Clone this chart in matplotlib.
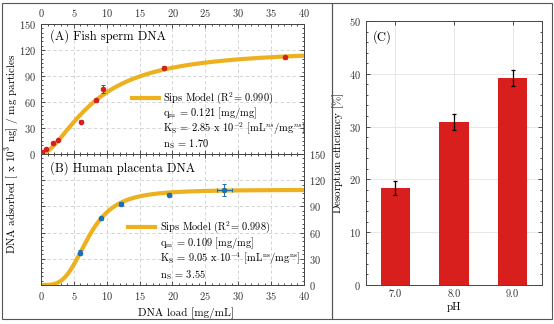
import numpy as np
import matplotlib

matplotlib.use("Agg")
import matplotlib.pyplot as plt
from matplotlib.ticker import AutoMinorLocator, MultipleLocator
from matplotlib.patches import Rectangle
from matplotlib.lines import Line2D

plt.rcParams["font.family"] = "serif"
plt.rcParams["font.serif"] = ["cmr10", "DejaVu Serif"]
plt.rcParams["mathtext.fontset"] = "cm"
plt.rcParams["axes.formatter.use_mathtext"] = True
plt.rcParams["axes.unicode_minus"] = False

# panel A: fish sperm DNA (load mg/mL, adsorbed x10^3 ng/mg)
fish_x = [0.1, 0.76, 1.8, 2.65, 6.05, 8.3, 9.5, 18.7, 37.1]
fish_y = [2.0, 5.4, 12.7, 16.0, 37.3, 62.0, 75.0, 99.5, 111.5]
fish_yerr = [0.8, 1.0, 1.2, 1.2, 1.5, 2.0, 5.0, 1.5, 2.0]
fish_fit = dict(qm=121.0, K=2.85e-2, n=1.70)

# panel B: human placenta DNA
plac_x = [5.95, 9.15, 12.1, 19.5, 27.9]
plac_y = [36.8, 76.3, 93.0, 103.3, 108.6]
plac_xerr = [0.2, 0.2, 0.2, 0.2, 1.1]
plac_yerr = [3.0, 1.5, 2.0, 1.5, 6.5]
plac_fit = dict(qm=109.0, K=9.05e-4, n=3.55)

# panel C: desorption efficiency
ph_labels = ["7.0", "8.0", "9.0"]
desorption = [18.4, 30.9, 39.2]
desorption_err = [1.3, 1.5, 1.5]

CURVE = "#EDB120"
RED = "#D42020"
BLUE = "#1F6FB5"
BAR = "#D91E1E"
GRID = "#cfcfcf"


def sips(c, qm, K, n):
    kc = K * c ** n
    return qm * kc / (1 + kc)


def style_axis(ax):
    ax.tick_params(which="both", direction="in", top=True, right=True,
                   labelsize=7.5, width=0.6, colors="#333333")
    ax.tick_params(which="major", length=3)
    ax.tick_params(which="minor", length=1.6)
    for s in ax.spines.values():
        s.set_linewidth(0.7)
        s.set_color("#444444")


fig = plt.figure(figsize=(5.54, 3.24), dpi=100)

# outer frames
fig.patches.append(Rectangle((2 / 554, 5 / 324), 330 / 554, 316 / 324, transform=fig.transFigure,
                             fill=False, edgecolor="#555555", linewidth=0.8))
fig.patches.append(Rectangle((332 / 554, 5 / 324), 220 / 554, 316 / 324, transform=fig.transFigure,
                             fill=False, edgecolor="#555555", linewidth=0.8))

ax_a = fig.add_axes([0.074, 0.5247, 0.4747, 0.4012])
ax_b = fig.add_axes([0.074, 0.1204, 0.4747, 0.4043])
ax_c = fig.add_axes([0.6606, 0.1204, 0.3177, 0.8148])

xs = np.linspace(0, 40, 400)
panels = [
    (ax_a, fish_x, fish_y, None, fish_yerr, fish_fit, RED, "0.990",
     r"q$_\mathrm{m}$ = 0.121 [mg/mg]",
     r"K$_\mathrm{S}$ = 2.85 x 10$^{-2}$ [mL$^{ns}$/mg$^{ns}$]",
     r"n$_\mathrm{S}$ = 1.70", "(A) Fish sperm DNA",
     (0.346, 0.449, 0.464), [0.431, 0.315, 0.192, 0.077], 0.905),
    (ax_b, plac_x, plac_y, plac_xerr, plac_yerr, plac_fit, BLUE, "0.998",
     r"q$_\mathrm{m}$ = 0.109 [mg/mg]",
     r"K$_\mathrm{S}$ = 9.05 x 10$^{-4}$ [mL$^{\mathrm{ns}}$/mg$^{\mathrm{ns}}$]",
     r"n$_\mathrm{S}$ = 3.55", "(B) Human placenta DNA",
     (0.331, 0.433, 0.452), [0.443, 0.321, 0.198, 0.076], 0.895),
]

for (ax, x, y, xe, ye, fit, col, r2, l1, l2, l3, title, lx, ly, ty) in panels:
    ax.plot(xs, sips(xs, **fit), color=CURVE, lw=3, zorder=2, solid_capstyle="butt")
    ax.errorbar(x, y, xerr=xe, yerr=ye, fmt="o", ms=3, color=col, ecolor=col,
                elinewidth=0.7, capsize=1.5, capthick=0.7, zorder=3)
    ax.set_xlim(0, 40)
    ax.set_ylim(0, 150)
    ax.xaxis.set_major_locator(MultipleLocator(5))
    ax.xaxis.set_minor_locator(AutoMinorLocator(5))
    ax.yaxis.set_major_locator(MultipleLocator(30))
    ax.yaxis.set_minor_locator(AutoMinorLocator(6))
    ax.grid(True, which="major", linestyle=(0, (4, 3)), color=GRID, linewidth=0.6)
    ax.set_axisbelow(True)
    style_axis(ax)
    ax.add_line(Line2D([lx[0], lx[1]], [ly[0], ly[0]], transform=ax.transAxes,
                       color=CURVE, lw=3))
    ax.text(lx[2], ly[0], f"Sips Model (R$^2$= {r2})", transform=ax.transAxes,
            fontsize=7.5, va="center", ha="left")
    for txt, yy in zip([l1, l2, l3], ly[1:]):
        ax.text(lx[2], yy, txt, transform=ax.transAxes, fontsize=7.5, va="center", ha="left")
    ax.text(0.034, ty, title, transform=ax.transAxes, fontsize=9, va="center", ha="left")

ax_a.tick_params(labelbottom=False, labeltop=True)
ax_b.tick_params(labelleft=False, labelright=True)

fig.text(12 / 554, 1 - 154 / 324, r"DNA adsorbed [ x 10$^3$ ng] / mg particles",
         rotation=90, ha="center", va="center", fontsize=8)
fig.text(186 / 554, 1 - 313 / 324, "DNA load [mg/mL]", ha="center", va="center", fontsize=8)

# panel C
pos = np.arange(len(ph_labels))
ax_c.bar(pos, desorption, width=0.5, color=BAR, zorder=2)
ax_c.errorbar(pos, desorption, yerr=desorption_err, fmt="none", ecolor="black",
              elinewidth=0.9, capsize=1.5, capthick=0.9, zorder=3)
ax_c.set_xlim(-0.5, 2.5)
ax_c.set_ylim(0, 50)
ax_c.set_xticks(pos)
ax_c.set_xticklabels(ph_labels)
ax_c.yaxis.set_major_locator(MultipleLocator(10))
ax_c.yaxis.set_minor_locator(AutoMinorLocator(5))
ax_c.grid(True, which="major", color="#e4e4e4", linewidth=0.6)
ax_c.set_axisbelow(True)
style_axis(ax_c)
ax_c.tick_params(axis="x", which="minor", bottom=False, top=False)
ax_c.set_xlabel("pH", fontsize=8, labelpad=2)
ax_c.set_ylabel(r"Desorption efficiency [$\%$]", fontsize=8, labelpad=2)
ax_c.text(0.04, 0.94, "(C)", transform=ax_c.transAxes, fontsize=9, va="center", ha="left")

fig.savefig("out.png", dpi=100)
